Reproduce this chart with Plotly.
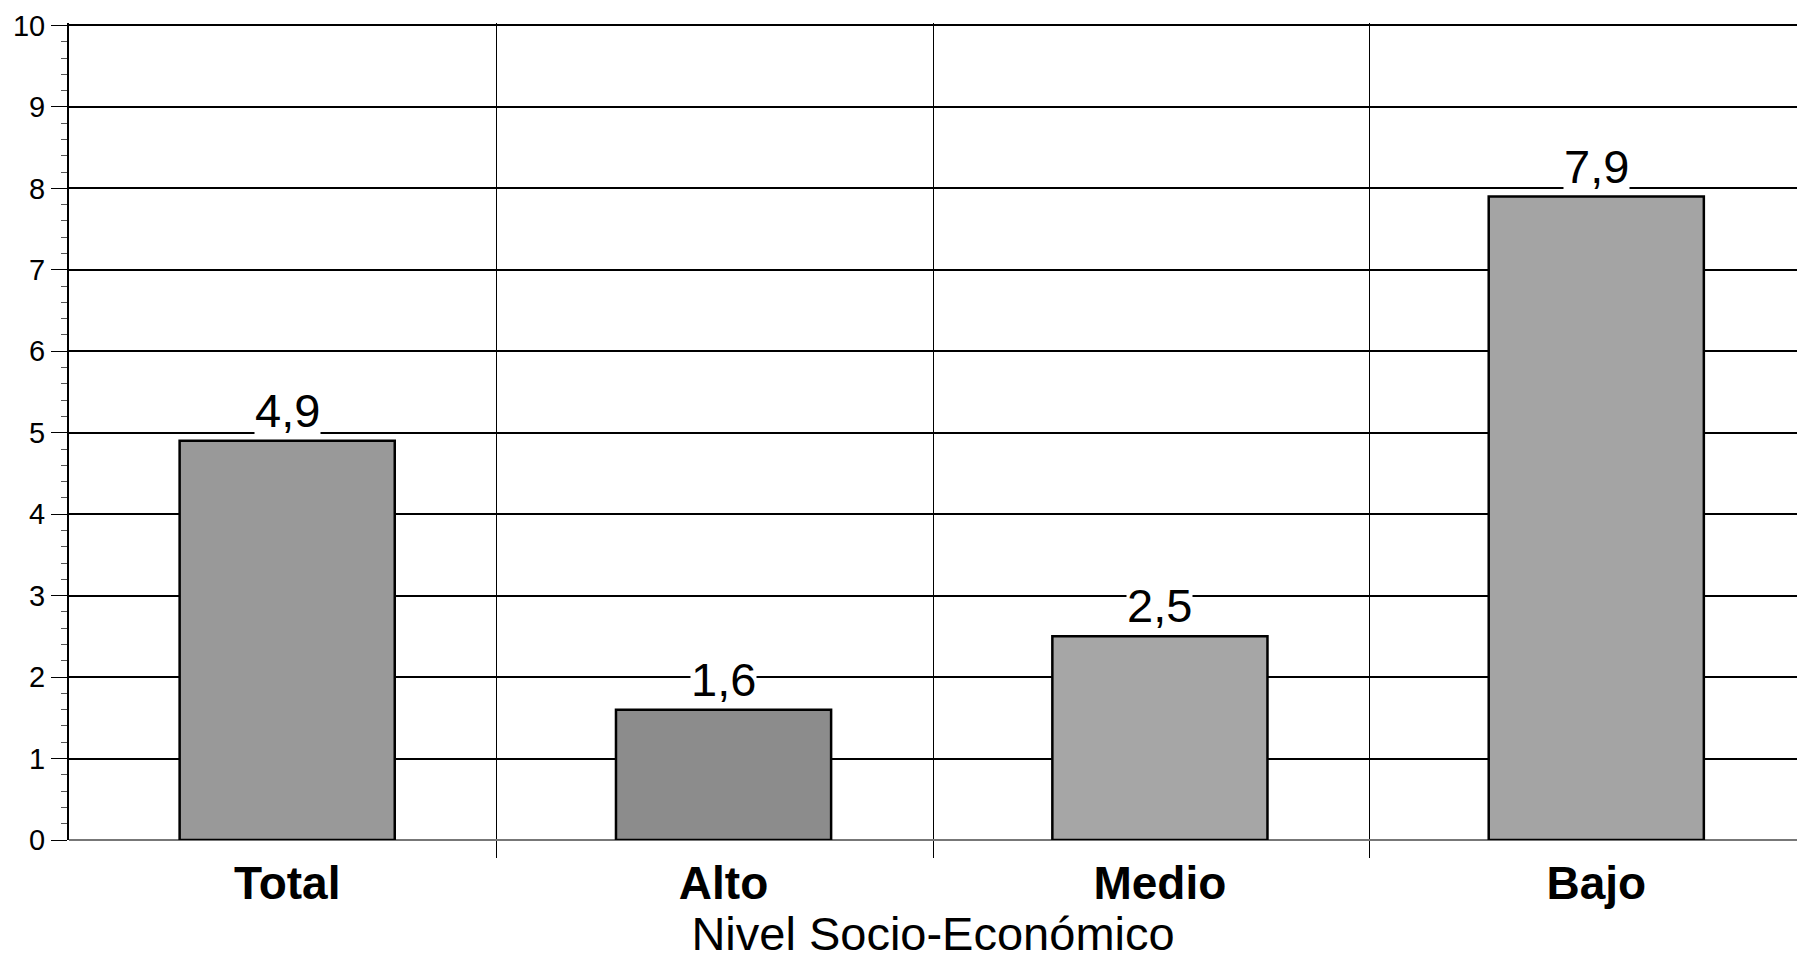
import plotly.graph_objects as go

# data
categorias = ["Total", "Alto", "Medio", "Bajo"]
valores = [4.9, 1.6, 2.5, 7.9]
colores = ["#999999", "#8c8c8c", "#a6a6a6", "#a4a4a4"]

x_pos = list(range(len(categorias)))

fig = go.Figure()
fig.add_trace(go.Bar(
    x=x_pos,
    y=valores,
    width=0.493,
    marker=dict(color=colores, line=dict(color="black", width=2.5)),
    hoverinfo="skip",
))

# value labels with white background so they break the gridline
for xi, v in zip(x_pos, valores):
    fig.add_annotation(
        x=xi, y=v, text=f"{v:.1f}".replace(".", ","),
        showarrow=False, yanchor="bottom", yshift=3,
        font=dict(family="Liberation Sans", size=47, color="black"),
        bgcolor="white", borderpad=0,
    )

fig.update_layout(
    width=1797, height=960,
    margin=dict(l=69, r=0, t=23, b=120),
    paper_bgcolor="white", plot_bgcolor="white",
    showlegend=False,
    font=dict(family="Liberation Sans", color="black"),
    xaxis=dict(
        range=[-0.5, 3.46], automargin=False,
        tickvals=x_pos, ticktext=[f"<b>{c}</b>" for c in categorias],
        tickfont=dict(size=46, family="Liberation Sans", color="black"),
        ticklabelstandoff=12,
        showgrid=False, ticks="", zeroline=False, showline=False,
        minor=dict(tick0=0.48, dtick=1, showgrid=True, gridcolor="black",
                   gridwidth=1.2, ticks="outside", ticklen=17, tickcolor="black"),
        title=dict(text="Nivel Socio-Económico", font=dict(size=47), standoff=17),
    ),
    yaxis=dict(
        range=[0, 10.03], dtick=1, tick0=0, automargin=False,
        tickfont=dict(size=29, family="Liberation Sans", color="black"),
        ticks="outside", ticklen=16, tickcolor="black",
        showgrid=True, gridcolor="black", gridwidth=1.6,
        showline=True, linecolor="black", linewidth=2,
        zeroline=True, zerolinecolor="#777777", zerolinewidth=2,
        minor=dict(dtick=0.2, ticks="outside", ticklen=6, tickcolor="#555555"),
    ),
)

# page has a default body margin; drop it so the figure fills the window
fig.write_html("out.html", config={"displayModeBar": False},
               post_script="document.body.style.margin='0';")
